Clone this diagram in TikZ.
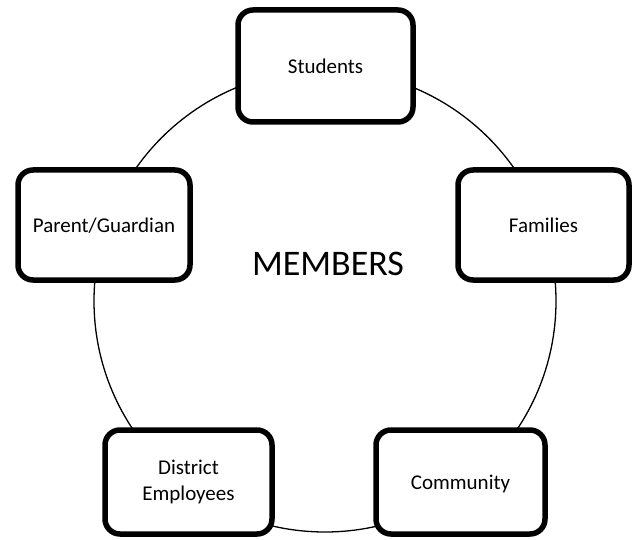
\documentclass[tikz,border=0pt]{standalone}
\usepackage{fontspec}
\setmainfont{Carlito}
\begin{document}
\begin{tikzpicture}[x=1pt,y=-1pt,
  member/.style={draw=black, line width=5.5pt, fill=white, rounded corners=15pt,
    inner sep=0pt, font=\fontsize{21}{26}\selectfont, text depth=0pt, align=center},
  ring/.style={draw=black, line width=1.3pt, circle, inner sep=0pt, minimum size=462pt}]
\useasboundingbox (0,0) rectangle (639,540);
\node[ring] (ring) at (325,301) {};
\node[font=\fontsize{36}{43}\selectfont, anchor=base] (title) at (328,275) {MEMBERS};
\node[member, minimum width=175pt, minimum height=112pt] (students) at (325.5,66) {Students};
\node[member, minimum width=171pt, minimum height=110pt] (families) at (543.5,225) {Families};
\node[member, minimum width=172pt, minimum height=110pt] (parent) at (104,225) {Parent/Guardian};
\node[member, minimum width=167pt, minimum height=104pt, text depth=] (district) at (188.5,482) {District\\Employees};
\node[member, minimum width=169pt, minimum height=104pt] (community) at (460.5,482) {Community};
\end{tikzpicture}
\end{document}
